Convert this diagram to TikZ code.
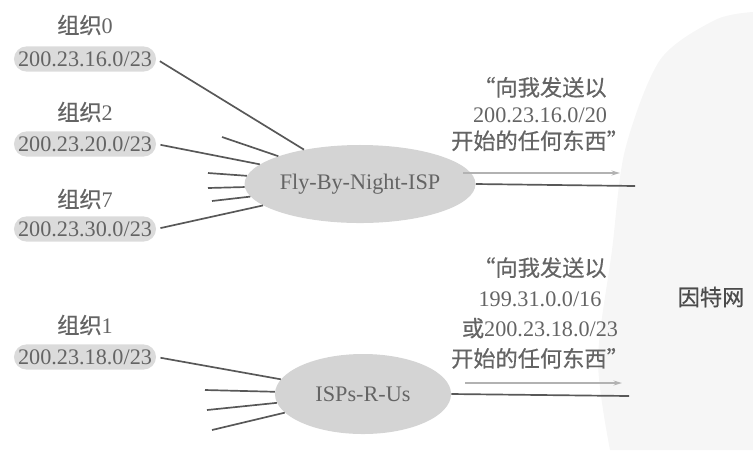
\documentclass[tikz,border=0pt]{standalone}
\usepackage{fontspec}
\setmainfont{Liberation Serif}
\newfontfamily\cjk{Noto Sans CJK SC}[FakeBold=0.5]
\usepackage{tikz}
\usetikzlibrary{
arrows.meta,
positioning,
shapes.geometric
}
\definecolor{ispgray}{RGB}{100,100,100}
\definecolor{ispdark}{RGB}{75,75,75}
\definecolor{ispline}{RGB}{88,88,88}
\definecolor{ispfill}{RGB}{212,212,212}
\definecolor{pillfill}{RGB}{219,219,219}
\definecolor{netfill}{RGB}{246,246,246}
\definecolor{adgray}{RGB}{178,178,178}

\begin{document}
\begin{tikzpicture}[
  x=0.025cm, y=-0.025cm,
  >={Stealth[length=6pt,width=3.5pt]},
  txt/.style={font=\fontsize{15.8}{19}\selectfont, text=ispgray, inner sep=1pt},
  pill/.style={txt, fill=pillfill, rounded corners=9pt, minimum width=3.55cm, minimum height=0.63cm},
  isp/.style={txt, ellipse, fill=ispfill, minimum width=4.55cm, minimum height=1.95cm},
  orglink/.style={line width=1.2pt, ispline},
  advert/.style={line width=1.2pt, adgray, ->},
  adtext/.style={txt, align=center}
]
\useasboundingbox (0,0) rectangle (753,450);

% Internet backdrop
\fill[netfill] plot[smooth] coordinates {(610,450) (598,360) (612,250) (625,150) (660,60) (715,20) (753,12)}
  -- (753,450) -- cycle;
\node[txt, text=ispdark] (net) at (711,297) {\cjk 因特网};

% Organisations
\node[pill] (p0) at (85,59) {200.23.16.0/23};
\node[txt] (o0) at (85,25) {{\cjk 组织}0};
\node[pill] (p2) at (85,144) {200.23.20.0/23};
\node[txt] (o2) at (85,112) {{\cjk 组织}2};
\node[pill] (p7) at (85,229) {200.23.30.0/23};
\node[txt] (o7) at (85,199) {{\cjk 组织}7};
\node[pill] (p1) at (85,357) {200.23.18.0/23};
\node[txt] (o1) at (85,325) {{\cjk 组织}1};

% ISPs
\node[isp] (fly) at (360,184) {Fly-By-Night-ISP};
\node[isp, minimum width=4.4cm, minimum height=2cm] (rus) at (363,394) {ISPs-R-Us};

% Links to Fly-By-Night-ISP
\foreach \p in {p0,p2,p7}
  \draw[orglink, shorten <=3pt] (\p.east) -- (fly);
\foreach \n/\x/\y in {a/222/137, b/208/173, c/208/188, d/212/201}{
  \coordinate (fly\n) at (\x,\y);
  \draw[orglink] (fly\n) -- (fly);
}

% Links to ISPs-R-Us
\draw[orglink, shorten <=3pt] (p1.east) -- (rus);
\foreach \n/\x/\y in {a/205/390, b/207/410, c/212/430}{
  \coordinate (rus\n) at (\x,\y);
  \draw[orglink] (rus\n) -- (rus);
}

% Advertisements
\node[adtext] (adfly) at (540,114) {{\cjk “向我发送以}\\200.23.16.0/20\\{\cjk 开始的任何东西”}};
\coordinate (flyend) at (635,186);
\draw[orglink] (fly.east) -- (flyend);
\coordinate (flyas) at (463,173);
\coordinate (flyae) at (620,173);
\draw[advert] (flyas) -- (flyae);

\node[adtext, font=\fontsize{15.8}{21.5}\selectfont] (adrus) at (540,313) {{\cjk “向我发送以}\\199.31.0.0/16\\{\cjk 或}200.23.18.0/23\\{\cjk 开始的任何东西”}};
\coordinate (rusend) at (629,396);
\draw[orglink] (rus.east) -- (rusend);
\coordinate (rusas) at (465,383);
\coordinate (rusae) at (622,383);
\draw[advert] (rusas) -- (rusae);

\end{tikzpicture}
\end{document}
